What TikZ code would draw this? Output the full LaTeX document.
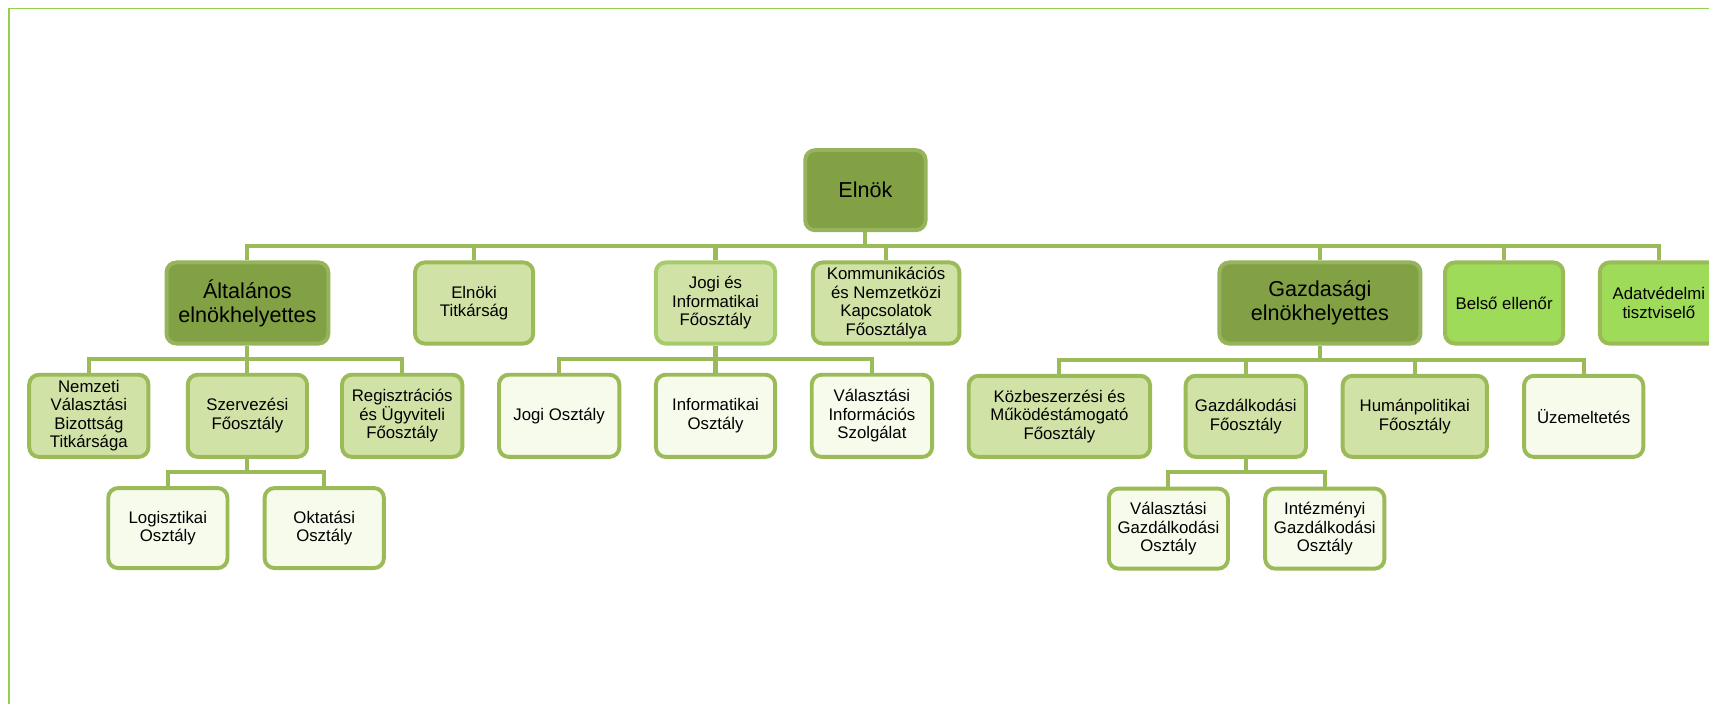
\documentclass[tikz,border=0pt]{standalone}
\usepackage{fontspec}
\setmainfont{Liberation Sans}
\usetikzlibrary{backgrounds}
\definecolor{darkfill}{HTML}{82A044}
\definecolor{darkline}{HTML}{95B45B}
\definecolor{midfill}{HTML}{D1E2A7}
\definecolor{lightfill}{HTML}{F7FBEC}
\definecolor{brightfill}{HTML}{9EDB59}
\definecolor{linecol}{HTML}{9BBB59}
\definecolor{lightline}{HTML}{A6CB6A}
\definecolor{framecol}{HTML}{92D050}
\newcommand\orgsmall{\fontsize{15.4}{17}\selectfont}
\newcommand\orgbig{\fontsize{19.8}{22}\selectfont}
\begin{document}
\begin{tikzpicture}[x=1pt,y=-1pt,
  every node/.style={inner sep=0pt, align=center, rounded corners=9pt, line width=3.6pt, text=black},
  dark/.style={draw=darkline, fill=darkfill, font=\orgbig},
  mid/.style={draw=linecol, fill=midfill, font=\orgsmall},
  light/.style={draw=linecol, fill=lightfill, font=\orgsmall},
  bright/.style={draw=linecol, fill=brightfill, font=\orgsmall},
  sz/.style 2 args={minimum width={#1-3.6}, minimum height={#2-3.6}},
  conn/.style={draw=linecol, line width=3.8pt, line join=miter},
  frame/.style={draw=framecol, line width=1.8pt}]
\useasboundingbox (0,0) rectangle (1568,646);
% frame
\coordinate (fbl) at (8.3,646);
\coordinate (ftl) at (8.3,7.8);
\coordinate (ftr) at (1568,7.8);
\draw[frame] (fbl) -- (ftl) -- (ftr);
% level 0
\node[dark, sz={114}{77}] (elnok) at (794,174.5) {Elnök};
% level 1
\node[dark, sz={152}{78}] (alt) at (227,278) {Általános\\elnökhelyettes};
\node[mid, sz={112}{78}] (titk) at (435,278) {Elnöki\\Titkárság};
\node[mid, draw=lightline, sz={113}{78}] (jogif) at (656.5,278) {Jogi és\\Informatikai\\Főosztály};
\node[mid, sz={138}{78}] (komm) at (813,278) {Kommunikációs\\és Nemzetközi\\Kapcsolatok\\Főosztálya};
\node[dark, sz={188}{78}] (gazd) at (1211,278) {Gazdasági\\elnökhelyettes};
\node[bright, sz={112}{78}] (belso) at (1380,278) {Belső ellenőr};
\node[bright, sz={112}{78}] (adat) at (1522,278) {Adatvédelmi\\tisztviselő};
% level 2
\node[mid, sz={113}{79}] (nvb) at (81.5,381.5) {Nemzeti\\Választási\\Bizottság\\Titkársága};
\node[mid, sz={113}{79}] (szerv) at (227,381.5) {Szervezési\\Főosztály};
\node[mid, sz={114}{79}] (regi) at (369,381.5) {Regisztrációs\\és Ügyviteli\\Főosztály};
\node[light, sz={114}{79}] (jogo) at (513,381.5) {Jogi Osztály};
\node[light, sz={113}{79}] (info) at (656.5,381.5) {Informatikai\\Osztály};
\node[light, sz={114}{79}] (vis) at (800,381.5) {Választási\\Információs\\Szolgálat};
\node[mid, sz={170}{78}] (kozb) at (972,382) {Közbeszerzési és\\Működéstámogató\\Főosztály};
\node[mid, sz={114}{78}] (gfo) at (1143,382) {Gazdálkodási\\Főosztály};
\node[mid, sz={136}{78}] (human) at (1298,382) {Humánpolitikai\\Főosztály};
\node[light, sz={113}{78}] (uzem) at (1453,382) {Üzemeltetés};
% level 3
\node[light, sz={113}{77}] (logi) at (154,484.5) {Logisztikai\\Osztály};
\node[light, sz={113}{77}] (okt) at (297.5,484.5) {Oktatási\\Osztály};
\node[light, sz={113}{77}] (vgo) at (1072,485) {Választási\\Gazdálkodási\\Osztály};
\node[light, sz={113}{77}] (igo) at (1215.5,485) {Intézményi\\Gazdálkodási\\Osztály};
% connectors
\begin{pgfonlayer}{background}
\fill[white] (0,0) rectangle (1568,646);
\coordinate (b0) at (794,226);
\coordinate (b1) at (0,329.5);
\coordinate (b2) at (0,330.5);
\coordinate (b3) at (0,433);
\draw[conn] (elnok.south) -- (elnok.south |- b0);
\draw[conn] (alt.north) |- (adat.north |- b0) -- (adat.north);
\foreach \n in {titk,jogif,komm,gazd,belso}
  \draw[conn] (\n.north) -- (\n.north |- b0);
% Altalanos
\draw[conn] (alt.south) -- (alt.south |- b1);
\draw[conn] (nvb.north) |- (regi.north |- b1) -- (regi.north);
\draw[conn] (szerv.north) -- (szerv.north |- b1);
% Jogi
\draw[conn] (jogif.south) -- (jogif.south |- b1);
\draw[conn] (jogo.north) |- (vis.north |- b1) -- (vis.north);
\draw[conn] (info.north) -- (info.north |- b1);
% Gazdasagi
\draw[conn] (gazd.south) -- (gazd.south |- b2);
\draw[conn] (kozb.north) |- (uzem.north |- b2) -- (uzem.north);
\draw[conn] (gfo.north) -- (gfo.north |- b2);
\draw[conn] (human.north) -- (human.north |- b2);
% level 3
\draw[conn] (szerv.south) -- (szerv.south |- b3);
\draw[conn] (logi.north) |- (okt.north |- b3) -- (okt.north);
\draw[conn] (gfo.south) -- (gfo.south |- b3);
\draw[conn] (vgo.north) |- (igo.north |- b3) -- (igo.north);
\end{pgfonlayer}
\end{tikzpicture}
\end{document}
